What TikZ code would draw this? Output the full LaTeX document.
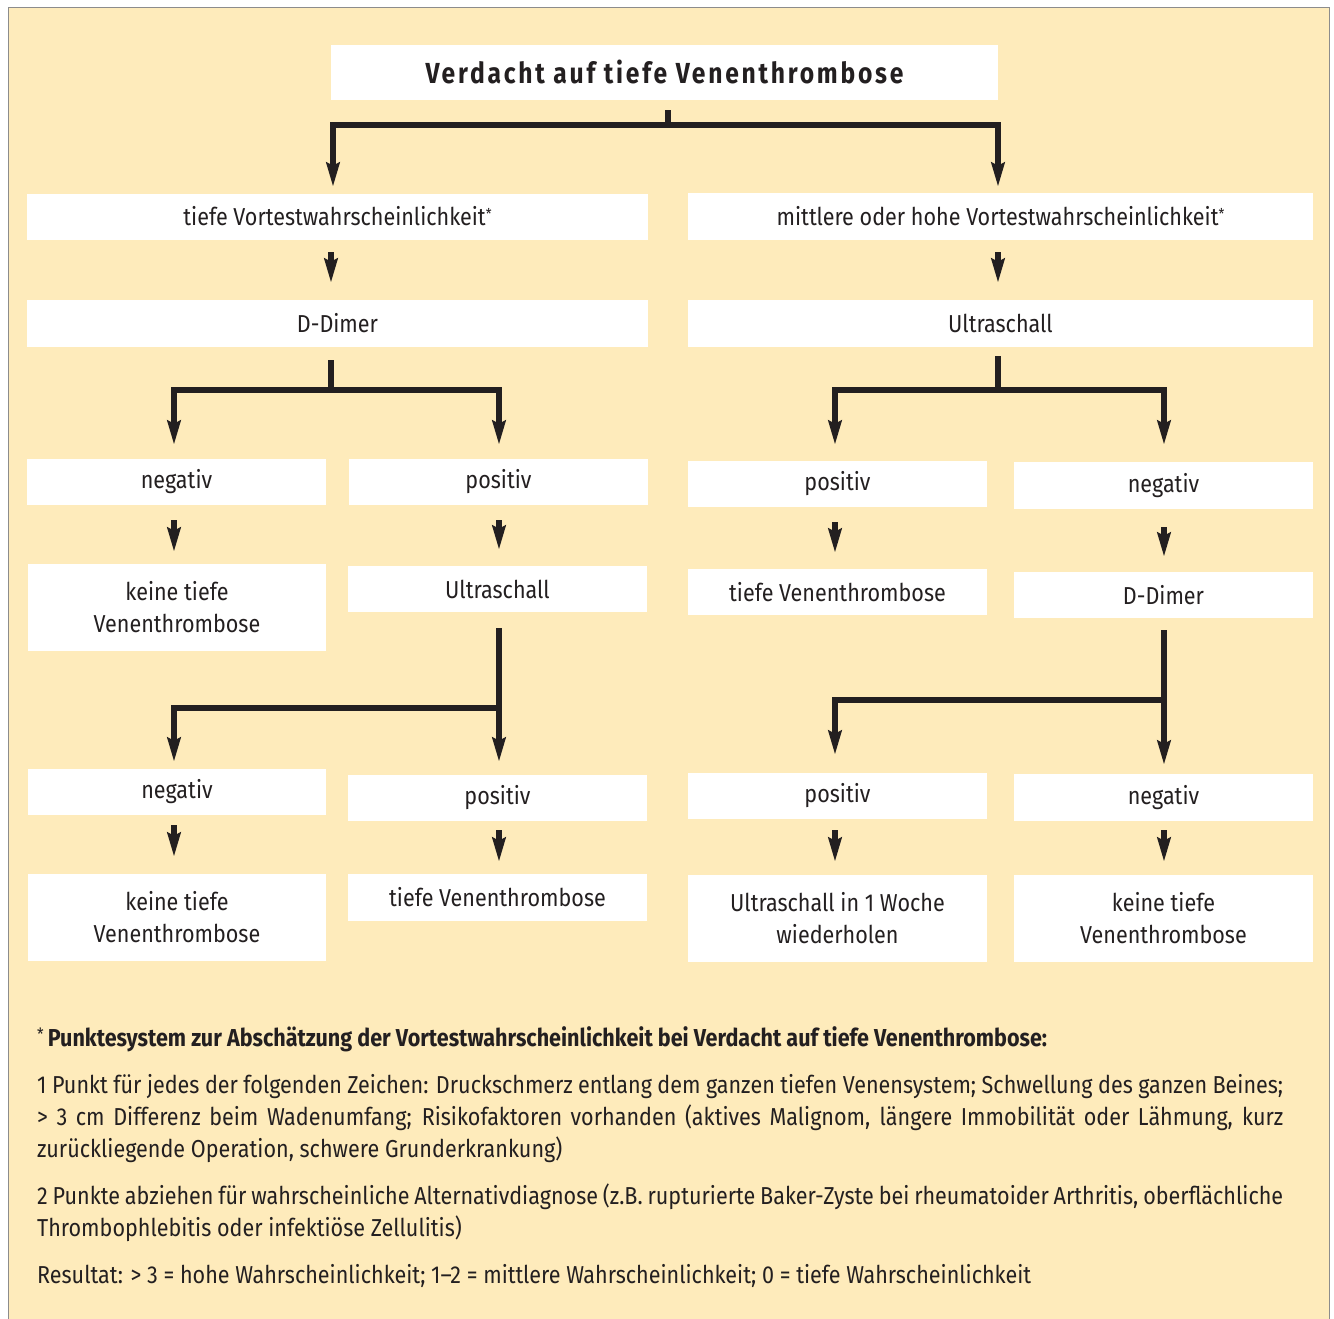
\documentclass[tikz,border=0pt]{standalone}
\usepackage{fontspec}
\setmainfont{Fira Sans}[FakeStretch=0.88]
\newfontface\titlefont{Fira Sans Bold}[FakeStretch=0.85, LetterSpace=9.5]
\usetikzlibrary{arrows.meta}
\definecolor{cream}{HTML}{FEEBBB}
\definecolor{ink}{HTML}{231F20}
\definecolor{framegray}{HTML}{8C8C8C}
\begin{document}
\begin{tikzpicture}[x=1pt,y=-1pt,
  every node/.style={text=ink},
  box/.style 2 args={fill=white, inner sep=0pt, align=center, minimum width=#1pt, minimum height=#2pt, font=\fontsize{24.5}{32}\selectfont},
  conn/.style={draw=ink, line width=5.5pt, line join=miter},
  arr/.style={conn, -{Stealth[length=24pt,width=13pt,inset=3pt]}},
  foot/.style={anchor=base west, inner sep=0pt, font=\fontsize{24.5}{32}\selectfont}]
\useasboundingbox (0,0) rectangle (1334,1318);
\fill[white] (0,0) rectangle (1334,1318);
\fill[cream] (8,7) rectangle (1330,1330);
\draw[framegray, line width=1.5pt] (8.5,1330) -- (8.5,7.5) -- (1329.5,7.5) -- (1329.5,1330);

% nodes
\node[box={667}{55}] (top) at (664.5,72.5) {\raisebox{2pt}{\titlefont\fontsize{29}{30}\selectfont Verdacht auf tiefe Venenthrombose}};
\node[box={621}{46}] (tl) at (337.5,217) {\raisebox{2pt}{tiefe Vortestwahrscheinlichkeit\raisebox{6pt}{\fontsize{15}{15}\selectfont*}}};
\node[box={625}{47}] (tr) at (1000.5,216.5) {\raisebox{2pt}{mittlere oder hohe Vortestwahrscheinlichkeit\raisebox{6pt}{\fontsize{15}{15}\selectfont*}}};
\node[box={621}{47}] (dl) at (337.5,323.5) {D-Dimer};
\node[box={625}{47}] (ur) at (1000.5,323.5) {Ultraschall};
\node[box={299}{46}] (n1) at (176.5,482) {negativ};
\node[box={299}{46}] (p1) at (498.5,482) {positiv};
\node[box={299}{46}] (p2) at (837.5,484) {positiv};
\node[box={299}{47}] (n2) at (1163.5,485.5) {negativ};
\node[box={298}{87}] (k1) at (177,607.5) {keine tiefe\\Venenthrombose};
\node[box={299}{46}] (u1) at (497.5,589) {Ultraschall};
\node[box={299}{46}] (t1) at (837.5,592) {tiefe Venenthrombose};
\node[box={299}{46}] (d2) at (1163.5,595) {D-Dimer};
\node[box={298}{46}] (n3) at (177,792) {negativ};
\node[box={299}{46}] (p3) at (497.5,798) {positiv};
\node[box={299}{46}] (p4) at (837.5,796) {positiv};
\node[box={299}{47}] (n4) at (1163.5,797.5) {negativ};
\node[box={298}{87}] (k2) at (177,917.5) {keine tiefe\\Venenthrombose};
\node[box={299}{47}] (t2) at (497.5,897.5) {tiefe Venenthrombose};
\node[box={299}{87}] (w1) at (837.5,918.5) {Ultraschall in 1 Woche\\wiederholen};
\node[box={299}{87}] (k3) at (1163.5,918.5) {keine tiefe\\Venenthrombose};

% connectors
\draw[conn] ([xshift=3.5pt]top.south) ++(0,10) -- ++(0,15) coordinate (j1);
\draw[arr, shorten >=7pt] (j1) -| ([xshift=-4.5pt]tl.north);
\draw[arr, shorten >=6pt] (j1) -| ([xshift=-2.5pt]tr.north);

\draw[arr, shorten <=12pt, shorten >=17pt] ([xshift=-6.5pt]tl.south) -- ([xshift=-6.5pt]dl.north);
\draw[arr, shorten <=12pt, shorten >=17pt] ([xshift=-2.5pt]tr.south) -- ([xshift=-2.5pt]ur.north);

\draw[conn] ([xshift=-6.5pt]dl.south) ++(0,13) -- ++(0,30) coordinate (j2);
\draw[arr, shorten >=14pt] (j2) -| ([xshift=-2.5pt]n1.north);
\draw[arr, shorten >=14pt] (j2) -| ([xshift=0.5pt]p1.north);

\draw[conn] ([xshift=-2.5pt]ur.south) ++(0,9) -- ++(0,34) coordinate (j3);
\draw[arr, shorten >=16pt] (j3) -| ([xshift=-2.5pt]p2.north);
\draw[arr, shorten >=17pt] (j3) -| ([xshift=0.5pt]n2.north);

\draw[arr, shorten <=15pt, shorten >=12pt] ([xshift=-2.5pt]n1.south) -- ([xshift=-3pt]k1.north);
\draw[arr, shorten <=15pt, shorten >=16pt] ([xshift=0.5pt]p1.south) -- ([xshift=1.5pt]u1.north);
\draw[arr, shorten <=15pt, shorten >=16pt] ([xshift=-2.5pt]p2.south) -- ([xshift=-2.5pt]t1.north);
\draw[arr, shorten <=18pt, shorten >=15pt] ([xshift=0.5pt]n2.south) -- ([xshift=0.5pt]d2.north);

\draw[arr, shorten <=16pt, shorten >=13pt] ([xshift=1.5pt]u1.south) -- ([xshift=1.5pt]p3.north);
\coordinate (j4) at ([xshift=1.5pt, yshift=-96pt]u1.south);
\draw[arr, shorten >=7pt] (j4) -| ([xshift=-3pt]n3.north);

\draw[arr, shorten <=12pt, shorten >=9pt] ([xshift=0.5pt]d2.south) -- ([xshift=0.5pt]n4.north);
\coordinate (j5) at ([xshift=0.5pt, yshift=-82pt]d2.south);
\draw[arr, shorten >=18pt] (j5) -| ([xshift=-2.5pt]p4.north);

\draw[arr, shorten <=10pt, shorten >=17pt] ([xshift=-3pt]n3.south) -- ([xshift=-3pt]k2.north);
\draw[arr, shorten <=9pt, shorten >=12pt] ([xshift=1.5pt]p3.south) -- ([xshift=1.5pt]t2.north);
\draw[arr, shorten <=11pt, shorten >=13pt] ([xshift=-2.5pt]p4.south) -- ([xshift=-2.5pt]w1.north);
\draw[arr, shorten <=9pt, shorten >=13pt] ([xshift=0.5pt]n4.south) -- ([xshift=0.5pt]k3.north);

% footnote
\node[foot] (f0) at (37,1046) {\raisebox{6pt}{\fontsize{17}{17}\selectfont*}\,\textbf{Punktesystem zur Abschätzung der Vortestwahrscheinlichkeit bei Verdacht auf tiefe Venenthrombose:}};
\node[foot] (f1) at (37,1093) {\makebox[1246pt][s]{1 Punkt für jedes der folgenden Zeichen: Druckschmerz entlang dem ganzen tiefen Venensystem; Schwellung des ganzen Beines;}};
\node[foot] (f2) at (37,1125) {\makebox[1246pt][s]{> 3 cm Differenz beim Wadenumfang; Risikofaktoren vorhanden (aktives Malignom, längere Immobilität oder Lähmung, kurz}};
\node[foot] (f3) at (37,1157) {zurückliegende Operation, schwere Grunderkrankung)};
\node[foot] (f4) at (37,1204) {\makebox[1246pt][s]{2 Punkte abziehen für wahrscheinliche Alternativdiagnose (z.B. rupturierte Baker-Zyste bei rheumatoider Arthritis, oberflächliche}};
\node[foot] (f5) at (37,1236) {Thrombophlebitis oder infektiöse Zellulitis)};
\node[foot] (f6) at (37,1283) {Resultat: > 3 = hohe Wahrscheinlichkeit; 1–2 = mittlere Wahrscheinlichkeit; 0 = tiefe Wahrscheinlichkeit};
\end{tikzpicture}
\end{document}
